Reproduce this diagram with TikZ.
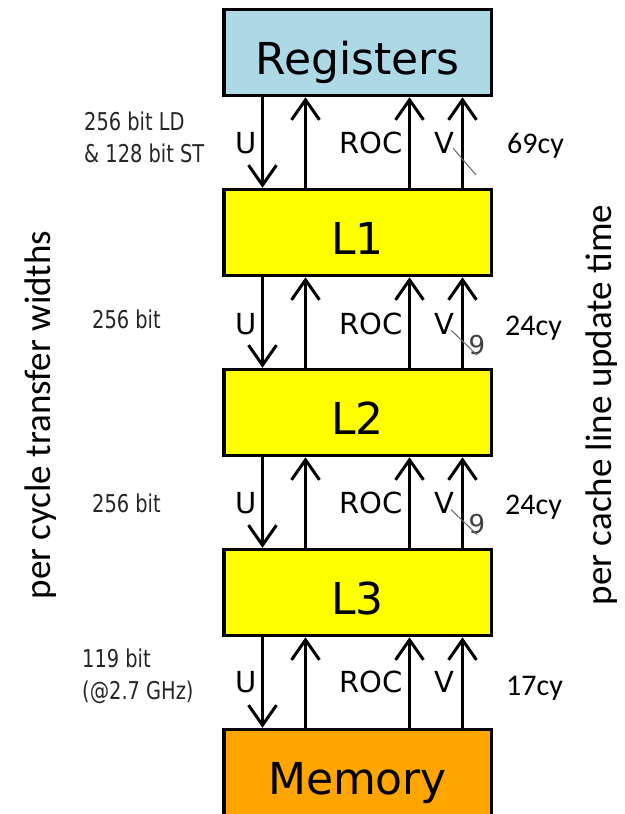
\documentclass[tikz,border=0pt]{standalone}
\usepackage{fontspec}
\setmainfont{DejaVu Sans}
\newfontfamily\condfont[FakeStretch=0.88]{DejaVu Sans Condensed}
\newfontfamily\califont{Carlito}
\usetikzlibrary{positioning,arrows.meta}
\definecolor{regblue}{RGB}{173,216,230}
\definecolor{cacheyellow}{RGB}{255,255,0}
\definecolor{memorange}{RGB}{255,165,0}

\begin{document}
\begin{tikzpicture}[
  x=1pt, y=-1pt,
  node distance=90.5pt,
  box/.style={draw, line width=3.5pt, minimum width=267.5pt, minimum height=86pt, inner sep=0pt, text height=44pt, text depth=0pt, font=\fontsize{44}{50}\selectfont},
  lbl/.style={anchor=base, inner sep=0pt, font=\fontsize{29}{34}\selectfont},
  bw/.style={anchor=base west, align=left, inner sep=0pt, font=\condfont\fontsize{24.5}{32}\selectfont, text=black!85},
  cy/.style={anchor=base west, inner sep=0pt, font=\califont\fontsize{30}{36}\selectfont},
  num/.style={inner sep=0pt, font=\fontsize{26}{30}\selectfont, text=black!75},
  side/.style={rotate=90, inner sep=0pt, font=\califont\fontsize{37}{44}\selectfont},
  tick/.style={draw=black!60, line width=1pt},
  ar/.style={-{Straight Barb[length=20pt,width=28pt]}, line width=3pt}
]
\useasboundingbox (0,0) rectangle (624,814);
\node[box, fill=regblue] (reg) at (357.5,52.5) {Registers};
\node[box, fill=cacheyellow, below=of reg] (l1) {L1};
\node[box, fill=cacheyellow, below=of l1] (l2) {L2};
\node[box, fill=cacheyellow, below=of l2] (l3) {L3};
\node[box, fill=memorange, below=of l3] (mem) {Memory};
% registers <-> L1
\draw[ar] ([xshift=-95pt]reg.south) -- ([xshift=-95pt]l1.north);
\draw[ar] ([xshift=-52pt]l1.north) -- ([xshift=-52pt]reg.south);
\draw[ar] ([xshift=52pt]l1.north) -- ([xshift=52pt]reg.south);
\draw[ar] ([xshift=105pt]l1.north) -- ([xshift=105pt]reg.south);
\node[lbl] (u1) at (246.5,153) {U};
\node[lbl] (roc1) at (371,153) {ROC};
\node[lbl] (v1) at (444,153) {V};
\node[bw] (w1) at (84,162) {256 bit LD\\\& 128 bit ST};
\node[cy] (c1) at (507,153) {69cy};
\coordinate (t1) at (476,175);
\draw[tick] ([shift={(-1pt,5pt)}]v1.south east) -- (t1);
% L1 <-> L2
\draw[ar] ([xshift=-95pt]l1.south) -- ([xshift=-95pt]l2.north);
\draw[ar] ([xshift=-52pt]l2.north) -- ([xshift=-52pt]l1.south);
\draw[ar] ([xshift=52pt]l2.north) -- ([xshift=52pt]l1.south);
\draw[ar] ([xshift=105pt]l2.north) -- ([xshift=105pt]l1.south);
\node[lbl] (u2) at (246.5,334) {U};
\node[lbl] (roc2) at (371,334) {ROC};
\node[lbl] (v2) at (444,334) {V};
\node[bw] (w2) at (92,328) {256 bit};
\node[cy] (c2) at (505,335) {24cy};
\node[num] (n2) at (477,345) {9};
\draw[tick] ([shift={(-3pt,4pt)}]v2.south east) -- (n2.south);
% L2 <-> L3
\draw[ar] ([xshift=-95pt]l2.south) -- ([xshift=-95pt]l3.north);
\draw[ar] ([xshift=-52pt]l3.north) -- ([xshift=-52pt]l2.south);
\draw[ar] ([xshift=52pt]l3.north) -- ([xshift=52pt]l2.south);
\draw[ar] ([xshift=105pt]l3.north) -- ([xshift=105pt]l2.south);
\node[lbl] (u3) at (246.5,513.5) {U};
\node[lbl] (roc3) at (371,513.5) {ROC};
\node[lbl] (v3) at (444,513.5) {V};
\node[bw] (w3) at (92,512) {256 bit};
\node[cy] (c3) at (505,514.5) {24cy};
\node[num] (n3) at (477,524.5) {9};
\draw[tick] ([shift={(-3pt,4pt)}]v3.south east) -- (n3.south);
% L3 <-> memory
\draw[ar] ([xshift=-95pt]l3.south) -- ([xshift=-95pt]mem.north);
\draw[ar] ([xshift=-52pt]mem.north) -- ([xshift=-52pt]l3.south);
\draw[ar] ([xshift=52pt]mem.north) -- ([xshift=52pt]l3.south);
\draw[ar] ([xshift=105pt]mem.north) -- ([xshift=105pt]l3.south);
\node[lbl] (u4) at (246.5,692) {U};
\node[lbl] (roc4) at (371,692) {ROC};
\node[lbl] (v4) at (444,692) {V};
\node[bw] (w4) at (82,699) {119 bit\\(@2.7 GHz)};
\node[cy] (c4) at (506,695) {17cy};
% side captions
\node[side] (sl) at (41,415) {per cycle transfer widths};
\node[side] (sr) at (602,405) {per cache line update time};
\end{tikzpicture}
\end{document}
